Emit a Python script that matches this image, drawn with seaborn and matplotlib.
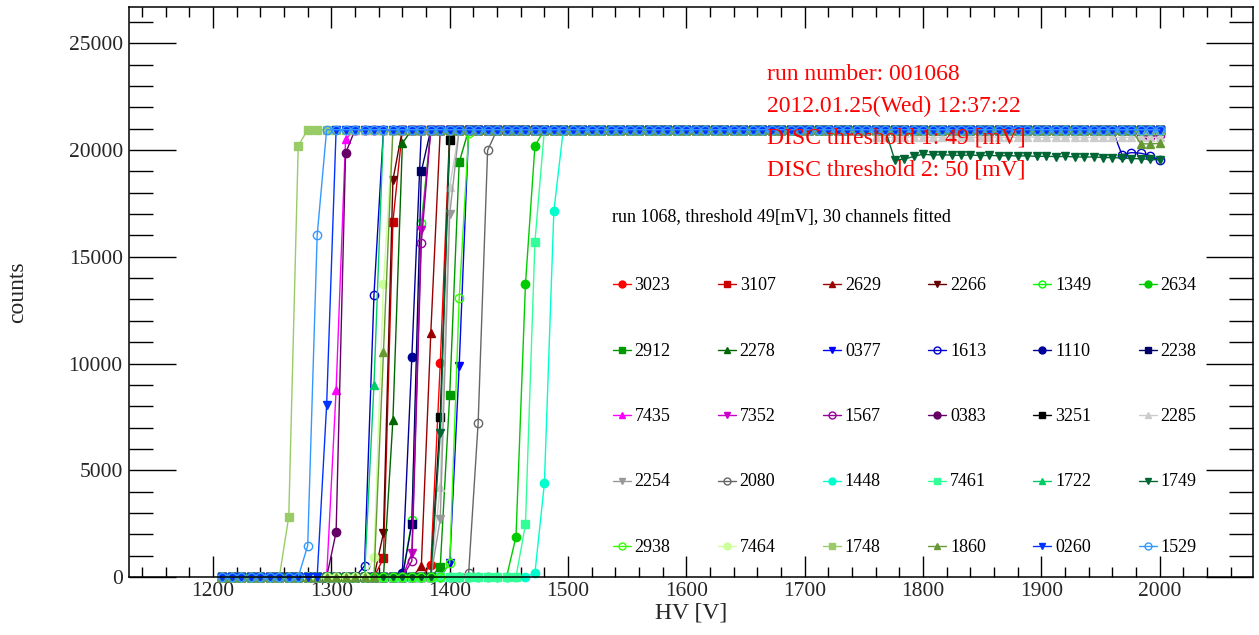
import numpy as np
import matplotlib
matplotlib.use("Agg")
import matplotlib.pyplot as plt
import seaborn as sns
from matplotlib.lines import Line2D
from matplotlib.ticker import MultipleLocator

# ---------------- data ----------------
hv = np.arange(1208, 2001, 8)          # HV scan points [V]
PLATEAU = 20950                          # saturated counts

channels = ["3023", "3107", "2629", "2266", "1349", "2634",
            "2912", "2278", "0377", "1613", "1110", "2238",
            "7435", "7352", "1567", "0383", "3251", "2285",
            "2254", "2080", "1448", "7461", "1722", "1749",
            "2938", "7464", "1748", "1860", "0260", "1529"]

colors = ["#ff0000", "#cc0000", "#990000", "#660000", "#00ff00", "#00cc00",
          "#009900", "#006600", "#0000ff", "#0000cc", "#000099", "#000066",
          "#ff00ff", "#cc00cc", "#990099", "#660066", "#000000", "#cccccc",
          "#999999", "#666666", "#00ffcc", "#33ff99", "#00cc66", "#006633",
          "#33ff00", "#ccff99", "#99cc66", "#669933", "#0033ff", "#3399ff"]

marker_cycle = ["o", "s", "^", "v", "o"]
open_cycle = [False, False, False, False, True]

# HV of the first non-zero point of each channel and the counts on the rising edge
rise_start = [1384, 1344, 1376, 1344, 1368, 1456,
              1392, 1352, 1400, 1328, 1360, 1368,
              1304, 1368, 1368, 1304, 1392, 1392,
              1392, 1416, 1472, 1464, 1336, 1392,
              1400, 1336, 1264, 1344, 1296, 1280]
rise_counts = [[560, 10010], [875, 16650], [500, 11420], [2060, 18600], [2650, 16600], [1890, 13720, 20200],
               [480, 8530, 19420], [7360, 20320], [650, 9890], [515, 13210], [190, 10300], [2500, 19000],
               [8760, 20510], [1120, 16260], [750, 15660], [2100, 19850], [7510, 20480], [4230, 18290],
               [2700, 17000], [190, 7200, 19980], [190, 4390, 17150], [2470, 15710], [9000], [6730],
               [650, 13060, 20790], [950, 13720], [2830, 20200], [10530], [8060], [1470, 16010]]

# deviations from the plateau at high voltage
tail_1749_hv = np.arange(1776, 2001, 8)
tail_1749_counts = [19540, 19570, 19700, 19810, 19760, 19780, 19760, 19750, 19770, 19740,
                    19750, 19730, 19740, 19720, 19730, 19700, 19710, 19690, 19700, 19680,
                    19670, 19680, 19650, 19640, 19630, 19600, 19590, 19560, 19540]
tail_1613_hv = [1968, 1976, 1984, 1992, 2000]
tail_1613_counts = [19780, 19880, 19850, 19740, 19510]
tail_1860_hv = [1984, 1992, 2000]
tail_1860_counts = [20290, 20290, 20310]
tail_1567_hv = [1984, 1992, 2000]
tail_1567_counts = [20650, 20600, 20700]
tail_2285_hv = np.arange(1760, 2001, 8)
tail_2285_counts = [20600, 20610, 20590, 20600, 20620, 20600, 20590, 20600, 20610, 20600,
                    20590, 20600, 20610, 20600, 20590, 20600, 20620, 20600, 20590, 20600,
                    20610, 20600, 20590, 20600, 20610, 20600, 20590, 20600, 20610, 20600,
                    20600]

tails = {"1749": (tail_1749_hv, tail_1749_counts),
         "1613": (tail_1613_hv, tail_1613_counts),
         "1860": (tail_1860_hv, tail_1860_counts),
         "1567": (tail_1567_hv, tail_1567_counts),
         "2285": (tail_2285_hv, tail_2285_counts)}


def build(i):
    y = np.where(hv < rise_start[i], 0.0, float(PLATEAU))
    for k, v in enumerate(rise_counts[i]):
        y[hv == rise_start[i] + 8 * k] = v
    ch = channels[i]
    if ch in tails:
        th, tc = tails[ch]
        for h, v in zip(th, tc):
            y[hv == h] = v
    return y


# ---------------- style ----------------
sns.set_style("ticks")
plt.rcParams["font.family"] = ["Liberation Serif", "DejaVu Serif"]

W, H = 1259, 635
fig = plt.figure(figsize=(W / 100, H / 100), dpi=100)
L, R, T, B = 129, 1253.3, 7, 577
ax = fig.add_axes([L / W, 1 - B / H, (R - L) / W, (B - T) / H])

for i, ch in enumerate(channels):
    m = marker_cycle[i % 5]
    is_open = open_cycle[i % 5]
    c = colors[i]
    sns.lineplot(x=hv, y=build(i), ax=ax, color=c, marker=m,
                 markersize=6 if m == "o" else 5.5,
                 markerfacecolor="none" if is_open else c,
                 markeredgecolor=c, markeredgewidth=1.0,
                 linewidth=1.0, estimator=None, sort=False,
                 clip_on=False, legend=False)

ax.set_xlim(1129, 2079)
ax.set_ylim(0, 26700)
ax.xaxis.set_major_locator(MultipleLocator(100))
ax.xaxis.set_minor_locator(MultipleLocator(20))
ax.yaxis.set_major_locator(MultipleLocator(5000))
ax.yaxis.set_minor_locator(MultipleLocator(1000))

ax.tick_params(axis="x", which="both", direction="in", top=True, bottom=True,
               labelsize=15.5, pad=3.5, width=1.0, color="black")
ax.tick_params(axis="x", which="major", length=15)
ax.tick_params(axis="x", which="minor", length=7.2)
ax.tick_params(axis="y", which="both", direction="in", left=True, right=True,
               labelsize=15.5, pad=4.5, width=1.0, color="black")
ax.tick_params(axis="y", which="major", length=34)
ax.tick_params(axis="y", which="minor", length=17)
for s in ax.spines.values():
    s.set_linewidth(1.1)
    s.set_color("black")

ax.set_xlabel("HV [V]", fontsize=17, labelpad=1)
ax.set_ylabel("counts", fontsize=17, labelpad=29)

# ---------------- annotations ----------------
red_lines = ["run number: 001068", "2012.01.25(Wed) 12:37:22",
             "DISC threshold 1: 49 [mV]", "DISC threshold 2: 50 [mV]"]
for k, txt in enumerate(red_lines):
    fig.text(767 / W, 1 - (80 + 31.7 * k) / H, txt, color="#ff0000",
             fontsize=17, va="baseline", ha="left", zorder=20)

fig.text(612 / W, 1 - 222 / H, "run 1068, threshold 49[mV], 30 channels fitted",
         fontsize=13, va="baseline", ha="left", color="black")

# ---------------- legend (6 columns x 5 rows) ----------------
for i, ch in enumerate(channels):
    r, c = divmod(i, 6)
    xm = 621.5 + 105.2 * c
    ym = 284 + 65.5 * r
    m = marker_cycle[i % 5]
    is_open = open_cycle[i % 5]
    col = colors[i]
    fig.add_artist(Line2D([(xm - 9) / W, (xm + 9) / W], [1 - ym / H, 1 - ym / H],
                          color=col, linewidth=1.0, transform=fig.transFigure))
    fig.add_artist(Line2D([xm / W], [1 - ym / H], marker=m, markersize=5,
                          markerfacecolor="none" if is_open else col,
                          markeredgecolor=col, markeredgewidth=1.0,
                          linestyle="none", transform=fig.transFigure))
    fig.text((xm + 13) / W, 1 - (ym + 6) / H, ch, fontsize=13,
             va="baseline", ha="left", color="black")

fig.savefig("out.png", dpi=100)
